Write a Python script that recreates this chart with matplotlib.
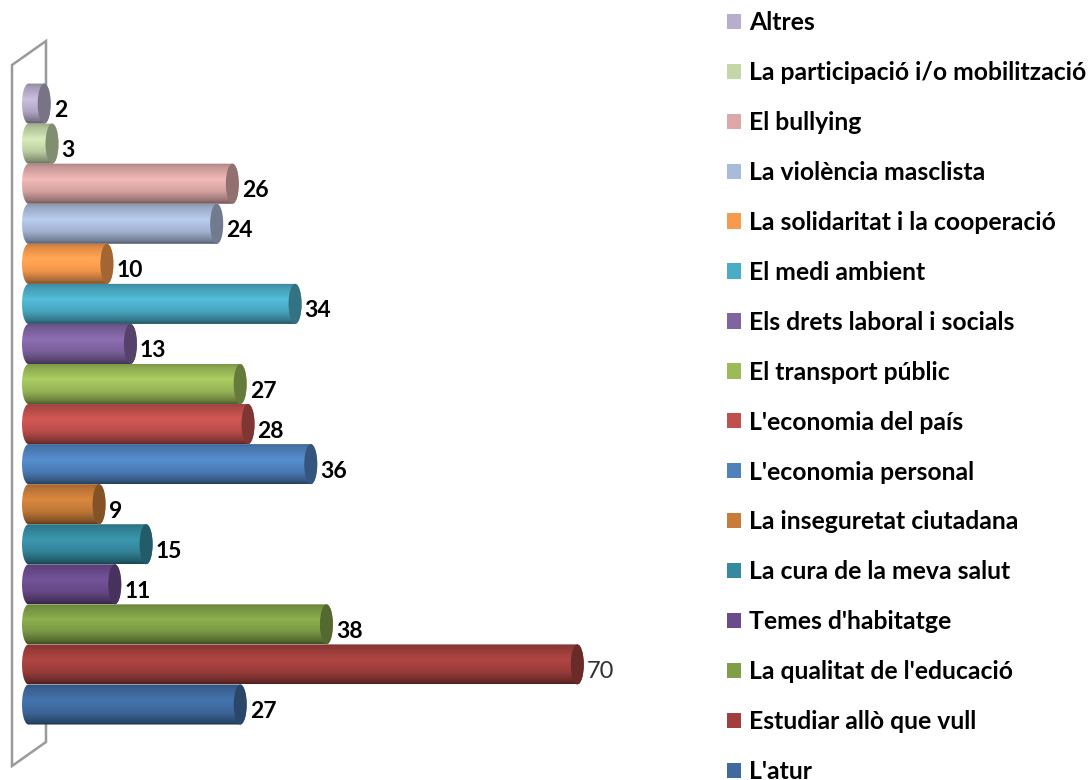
import numpy as np
import matplotlib
matplotlib.use('Agg')
import matplotlib.pyplot as plt
from matplotlib.colors import to_rgb
from matplotlib.patches import Patch, Ellipse
from matplotlib.path import Path
from matplotlib.transforms import Affine2D

# bottom to top, same as the chart's category order
categories = ["L'atur", "Estudiar allò que vull", "La qualitat de l'educació",
              "Temes d'habitatge", "La cura de la meva salut", "La inseguretat ciutadana",
              "L'economia personal", "L'economia del país", "El transport públic",
              "Els drets laboral i socials", "El medi ambient", "La solidaritat i la cooperació",
              "La violència masclista", "El bullying", "La participació i/o mobilització",
              "Altres"]
values = [27, 70, 38, 11, 15, 9, 36, 28, 27, 13, 34, 10, 24, 26, 3, 2]
colors = ['#3F6A9F', '#A03F3D', '#7F9F47', '#6A4C8C', '#358A9F', '#C77C39',
          '#4F81BD', '#C0504D', '#9BBB59', '#8064A2', '#4BACC6', '#F79A4E',
          '#A9BBDA', '#DDA9A8', '#C4D7A9', '#B8AECB']

W, H = 1088, 780
px_per_val = 7.84
px_per_cat = 40.06
x0_px = 28.5   # centre of the left end of the bars
y0_px = 704.5  # centre of the bottom bar
cap_w = 6.5 / px_per_val
bar_h = 1.0

plt.rcParams['font.family'] = ['Lato', 'DejaVu Sans']

fig = plt.figure(figsize=(W / 100, H / 100), dpi=100)
ax = fig.add_axes([0, 0, 1, 1])
ax.set_axis_off()

# wall of the 3d box, in pixels of the image
pix = Affine2D().scale(1 / W, -1 / H).translate(0, 1) + fig.transFigure
ax.plot([46, 46, 12, 12, 46, 46], [84, 41, 65, 766, 742, 700], color='#9A9A9A', lw=1.8,
        transform=pix, zorder=1, solid_joinstyle='miter')

# shading across the cylinder, top to bottom
shade_pos = [0.0, 0.1, 0.4, 0.7, 0.92, 1.0]
shade_mul = [0.78, 0.9, 1.1, 0.95, 0.68, 0.5]
t = np.linspace(0, 1, 80)
shade = np.interp(t, shade_pos, shade_mul)


def cylinder(y, v, col):
    base = np.array(to_rgb(col))
    grad = np.clip(base[None, None, :] * shade[:, None, None], 0, 1)
    th = np.linspace(np.pi / 2, 3 * np.pi / 2, 40)
    xl = cap_w * np.cos(th)
    yl = y + bar_h / 2 * np.sin(th)
    xr = v + cap_w * np.cos(th[::-1] - np.pi)
    yr = y + bar_h / 2 * np.sin(th[::-1] - np.pi)
    # th runs top to bottom on the left, then back up on the right
    verts = np.column_stack([np.r_[xl, xr[::-1]], np.r_[yl, yr[::-1]]])
    verts = np.vstack([verts, verts[0]])
    im = ax.imshow(grad, extent=[-cap_w, v + cap_w, y - bar_h / 2, y + bar_h / 2],
                   aspect='auto', origin='upper', interpolation='bilinear', zorder=2)
    im.set_clip_path(Path(verts), ax.transData)
    ax.add_patch(Ellipse((v, y), 2 * cap_w, bar_h, facecolor=base * 0.66,
                         edgecolor='none', zorder=2))


for i in range(len(values) - 1, -1, -1):
    cylinder(i, values[i], colors[i])

for i, v in enumerate(values):
    # the 70 label is the only one not in bold
    big = v == 70
    ax.annotate(str(v), (v, i), xytext=(cap_w * px_per_val + 3, -7), textcoords='offset pixels',
                ha='left', va='center', fontsize=17 if big else 16.5,
                fontweight='normal' if big else 'bold',
                color='#303030' if big else 'black', zorder=3)

ax.set_xlim(-x0_px / px_per_val, (W - x0_px) / px_per_val)
ax.set_ylim((y0_px - H) / px_per_cat, y0_px / px_per_cat)

handles = [Patch(facecolor=c, edgecolor='none', label=n) for c, n in zip(colors, categories)]
leg = ax.legend(handles[::-1], categories[::-1], loc='upper left', bbox_to_anchor=(727 / W, 1 - 11 / H),
                frameon=False, fontsize=17.8, handlelength=0.57, handleheight=0.57,
                handletextpad=0.32, labelspacing=1.09, borderpad=0, borderaxespad=0)
for txt in leg.get_texts():
    txt.set_fontweight('bold')

fig.savefig('out.png', dpi=100)
